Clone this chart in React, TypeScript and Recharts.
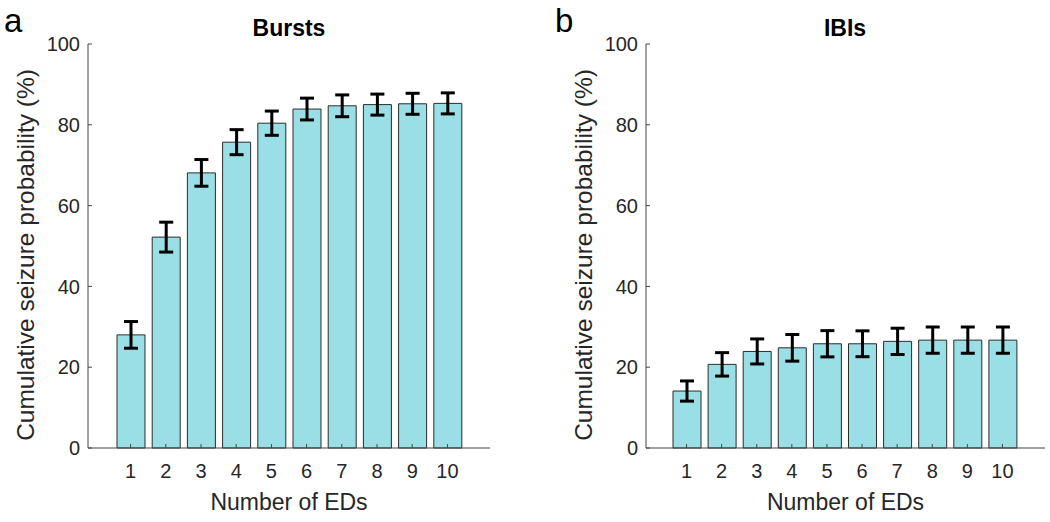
import { BarChart, Bar, XAxis, YAxis, ErrorBar } from "recharts";

const FONT = '"Liberation Sans", Arial, Helvetica, sans-serif';
const INK = "#262626";
const FILL = "#9adfe6";

// x categories
const EDS = ["1", "2", "3", "4", "5", "6", "7", "8", "9", "10"];
const Y_TICKS = [0, 20, 40, 60, 80, 100];

// panel a: bursts
const burstsMean = [28.0, 52.2, 68.1, 75.7, 80.4, 83.9, 84.7, 85.0, 85.2, 85.3];
const burstsErr = [3.3, 3.7, 3.3, 3.1, 3.0, 2.7, 2.7, 2.6, 2.6, 2.6];

// panel b: IBIs
const ibisMean = [14.1, 20.7, 23.9, 24.8, 25.8, 25.8, 26.4, 26.7, 26.7, 26.7];
const ibisErr = [2.5, 2.9, 3.1, 3.3, 3.25, 3.2, 3.25, 3.25, 3.25, 3.25];

const toRows = (mean: number[], err: number[]) =>
  EDS.map((ed, i) => ({ ed, mean: mean[i], err: err[i] }));

function XTick(props: any) {
  const { x, y, payload } = props;
  return (
    <text
      x={x}
      y={y}
      dy="0.71em"
      textAnchor="middle"
      fill={INK}
      style={{ fontFamily: FONT, fontSize: 20 }}
    >
      {payload.value}
    </text>
  );
}

function YTick(props: any) {
  const { x, y, payload } = props;
  return (
    <text
      x={x}
      y={y}
      dy="0.355em"
      textAnchor="end"
      fill={INK}
      style={{ fontFamily: FONT, fontSize: 20 }}
    >
      {payload.value}
    </text>
  );
}

function YLabel(props: any) {
  const vb = props.viewBox;
  const x = vb.x + vb.width - 63;
  const y = vb.y + vb.height / 2 + 9;
  return (
    <text
      x={x}
      y={y}
      dy="0.35em"
      transform={`rotate(-90 ${x} ${y})`}
      textAnchor="middle"
      fill={INK}
      style={{ fontFamily: FONT, fontSize: 24.5 }}
    >
      Cumulative seizure probability (%)
    </text>
  );
}

type PanelProps = {
  rows: { ed: string; mean: number; err: number }[];
  left: number;
  width: number;
  axisWidth: number;
  marginRight: number;
  pad: { left: number; right: number };
};

function Panel({ rows, left, width, axisWidth, marginRight, pad }: PanelProps) {
  return (
    <div style={{ position: "absolute", left, top: 0 }}>
      <BarChart
        width={width}
        height={522}
        data={rows}
        margin={{ top: 44, right: marginRight, bottom: 0, left: 0 }}
      >
        <XAxis
          dataKey="ed"
          height={74}
          padding={pad}
          tickSize={-4}
          tickMargin={20}
          axisLine={{ stroke: "#444", strokeWidth: 1 }}
          tickLine={{ stroke: "#444" }}
          tick={<XTick />}
          interval={0}
          label={{
            value: "Number of EDs",
            position: "insideBottom",
            offset: 12,
            fill: INK,
            fontSize: 23,
            fontFamily: FONT,
          }}
        />
        <YAxis
          width={axisWidth}
          domain={[0, 100]}
          ticks={Y_TICKS}
          tickSize={-4}
          tickMargin={12}
          axisLine={{ stroke: "#444", strokeWidth: 1 }}
          tickLine={{ stroke: "#444" }}
          tick={<YTick />}
          label={{ content: YLabel }}
        />
        <Bar
          dataKey="mean"
          fill={FILL}
          stroke="#2b2b2b"
          strokeWidth={1}
          barSize={28}
          isAnimationActive={false}
        >
          <ErrorBar
            dataKey="err"
            direction="y"
            width={7}
            stroke="#000"
            strokeWidth={3}
            isAnimationActive={false}
          />
        </Bar>
      </BarChart>
    </div>
  );
}

export default function App() {
  return (
    <div
      style={{
        position: "absolute",
        left: 0,
        top: 0,
        width: 1050,
        height: 522,
        background: "#fff",
        fontFamily: FONT,
      }}
    >
      <Panel
        rows={toRows(burstsMean, burstsErr)}
        left={0}
        width={525}
        axisWidth={88}
        marginRight={35}
        pad={{ left: 25, right: 25 }}
      />
      <Panel
        rows={toRows(ibisMean, ibisErr)}
        left={557}
        width={493}
        axisWidth={89}
        marginRight={5}
        pad={{ left: 23, right: 25 }}
      />
      <svg
        width={1050}
        height={60}
        style={{ position: "absolute", left: 0, top: 0, pointerEvents: "none" }}
      >
        <text x={4} y={32} fill="#000" style={{ fontFamily: FONT, fontSize: 33 }}>
          a
        </text>
        <text
          x={289}
          y={36}
          textAnchor="middle"
          fill="#000"
          style={{ fontFamily: FONT, fontSize: 23, fontWeight: "bold" }}
        >
          Bursts
        </text>
        <text x={555} y={32} fill="#000" style={{ fontFamily: FONT, fontSize: 33 }}>
          b
        </text>
        <text
          x={845}
          y={36}
          textAnchor="middle"
          fill="#000"
          style={{ fontFamily: FONT, fontSize: 23, fontWeight: "bold" }}
        >
          IBIs
        </text>
      </svg>
    </div>
  );
}
